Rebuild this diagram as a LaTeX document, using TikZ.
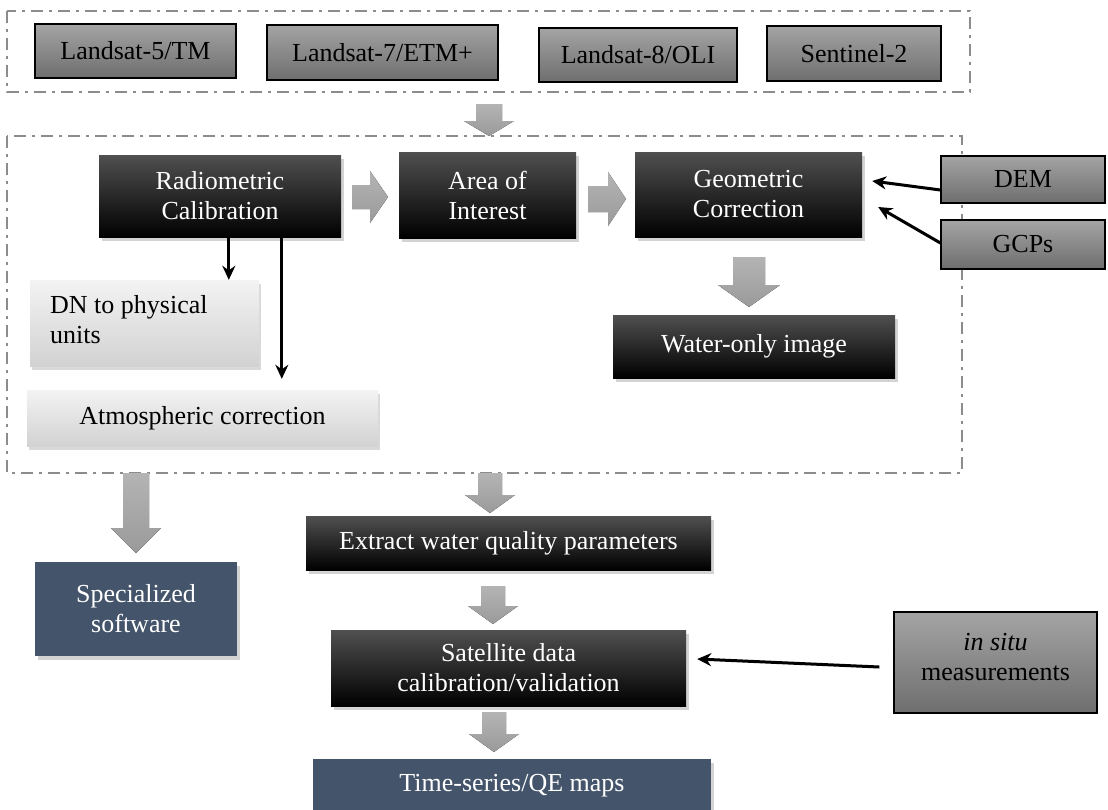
\documentclass[tikz,border=0pt]{standalone}
\usepackage{fontspec}
\setmainfont{Liberation Serif}
\usetikzlibrary{shadows,arrows.meta,calc}
\definecolor{framegray}{HTML}{8C8C8C}
\definecolor{slateblue}{HTML}{44546A}
\definecolor{boxtop}{HTML}{A4A4A4}
\definecolor{boxbot}{HTML}{6E6E6E}
\definecolor{blacktop}{HTML}{505050}
\definecolor{lighttop}{HTML}{F3F3F3}
\definecolor{lightbot}{HTML}{D2D2D2}
\definecolor{fattop}{HTML}{B4B4B4}
\definecolor{fatbot}{HTML}{9A9A9A}
\newcommand\fatdown[6]{%
  \fill[fatarrow] (#1-#4,#2) -- (#1+#4,#2) -- (#1+#4,#3-#6) -- (#1+#5,#3-#6) -- (#1,#3)
    -- (#1-#5,#3-#6) -- (#1-#4,#3-#6) -- cycle;}
\newcommand\fatright[6]{%
  \fill[fatarrow] (#2,#1-#4) -- (#2,#1+#4) -- (#3-#6,#1+#4) -- (#3-#6,#1+#5) -- (#3,#1)
    -- (#3-#6,#1-#5) -- (#3-#6,#1-#4) -- cycle;}
\begin{document}
\begin{tikzpicture}[x=1pt,y=-1pt,
  every node/.style={inner sep=0pt, font=\fontsize{26}{30}\selectfont, align=center},
  framebox/.style={draw=framegray, line width=2pt, dash pattern=on 12pt off 6pt on 3pt off 6pt},
  graybox/.style={draw=black, line width=1.2pt, top color=boxtop, bottom color=boxbot, text=black},
  blackbox/.style={top color=blacktop, middle color=black, bottom color=black, text=white,
    drop shadow={shadow xshift=3pt, shadow yshift=-4pt, opacity=0.35}},
  lightbox/.style={top color=lighttop, bottom color=lightbot, text=black,
    drop shadow={shadow xshift=2pt, shadow yshift=-4pt, opacity=0.3}},
  bluebox/.style={fill=slateblue, text=white,
    drop shadow={shadow xshift=3pt, shadow yshift=-4pt, opacity=0.35}},
  fatarrow/.style={top color=fattop, bottom color=fatbot},
  thinarr/.style={line width=3pt, -{Stealth[length=14pt,width=13pt]}},
]
\useasboundingbox (0,0) rectangle (1108,809);

% frames
\draw[framebox] (7,11) rectangle (970,92);
\draw[framebox] (7,136) rectangle (962,473);

% top sensors
\node[graybox, minimum width=201pt, minimum height=54pt] (l5) at (135.5,51) {Landsat-5/TM};
\node[graybox, minimum width=231pt, minimum height=55pt] (l7) at (382.5,52.5) {Landsat-7/ETM+};
\node[graybox, minimum width=198pt, minimum height=54pt] (l8) at (638,55) {Landsat-8/OLI};
\node[graybox, minimum width=174pt, minimum height=55pt] (s2) at (854,53.5) {Sentinel-2};

% preprocessing
\node[blackbox, minimum width=242pt, minimum height=82pt] (rad) at (220,196) {Radiometric\\Calibration};
\node[blackbox, minimum width=177pt, minimum height=86pt] (aoi) at (487.5,195) {Area of\\Interest};
\node[blackbox, minimum width=227pt, minimum height=85pt] (geo) at (748.5,194.5) {Geometric\\Correction};
\node[blackbox, minimum width=282pt, minimum height=63pt] (water) at (754,346.5) {Water-only image};
\node[graybox, minimum width=164pt, minimum height=47pt] (dem) at (1023,179.5) {DEM};
\node[graybox, minimum width=164pt, minimum height=49pt] (gcp) at (1023,244.5) {GCPs};
\node[lightbox, minimum width=229pt, minimum height=86pt] (dn) at (144.5,323) {};
\node[anchor=west, align=left, text=black] (dntext) at (50,320) {DN to physical\\units};
\node[lightbox, minimum width=351pt, minimum height=56pt] (atm) at (202.5,418) {Atmospheric correction};

% lower part
\node[bluebox, minimum width=202pt, minimum height=94pt] (soft) at (136,609) {Specialized\\software};
\node[blackbox, minimum width=405pt, minimum height=54pt] (ext) at (508.5,543) {Extract water quality parameters};
\node[blackbox, minimum width=355pt, minimum height=76pt] (sat) at (508.5,668) {Satellite data\\calibration/validation};
\node[bluebox, minimum width=398pt, minimum height=54pt] (ts) at (512,786) {Time-series/QE maps};
\node[graybox, minimum width=203pt, minimum height=101pt] (insitu) at (995.5,662.5) {};
\node[text=black] (insitutext) at (995.5,657) {\textit{in situ}\\measurements};

% fat arrows
\fatdown{489}{104}{136}{13}{25}{15}
\fatright{197}{352}{388}{12}{26}{18}
\fatright{199}{588}{626}{13}{27}{18}
\fatdown{749}{257}{307}{16}{31}{22}
\fatdown{136}{473}{553}{13}{25}{25}
\fatdown{490}{473}{513}{12}{25}{18}
\fatdown{493}{586}{624}{12}{25}{18}
\fatdown{494}{712}{752}{12}{25}{18}

% thin arrows
\draw[thinarr] ([xshift=130pt]rad.south west) -- ([xshift=130pt]rad.south west |- dn.north);
\draw[thinarr, shorten >=11pt] ([xshift=183pt]rad.south west) -- ([xshift=183pt]rad.south west |- atm.north);
\draw[thinarr] ([yshift=-10.5pt]dem.west) -- ([xshift=10pt,yshift=13.5pt]geo.east);
\draw[thinarr] ([yshift=1.5pt]gcp.west) -- ([xshift=16pt,yshift=-12.5pt]geo.east);
\draw[thinarr] ([xshift=-14pt,yshift=-4.5pt]insitu.west) -- ([xshift=11pt,yshift=9pt]sat.east);
\end{tikzpicture}
\end{document}
